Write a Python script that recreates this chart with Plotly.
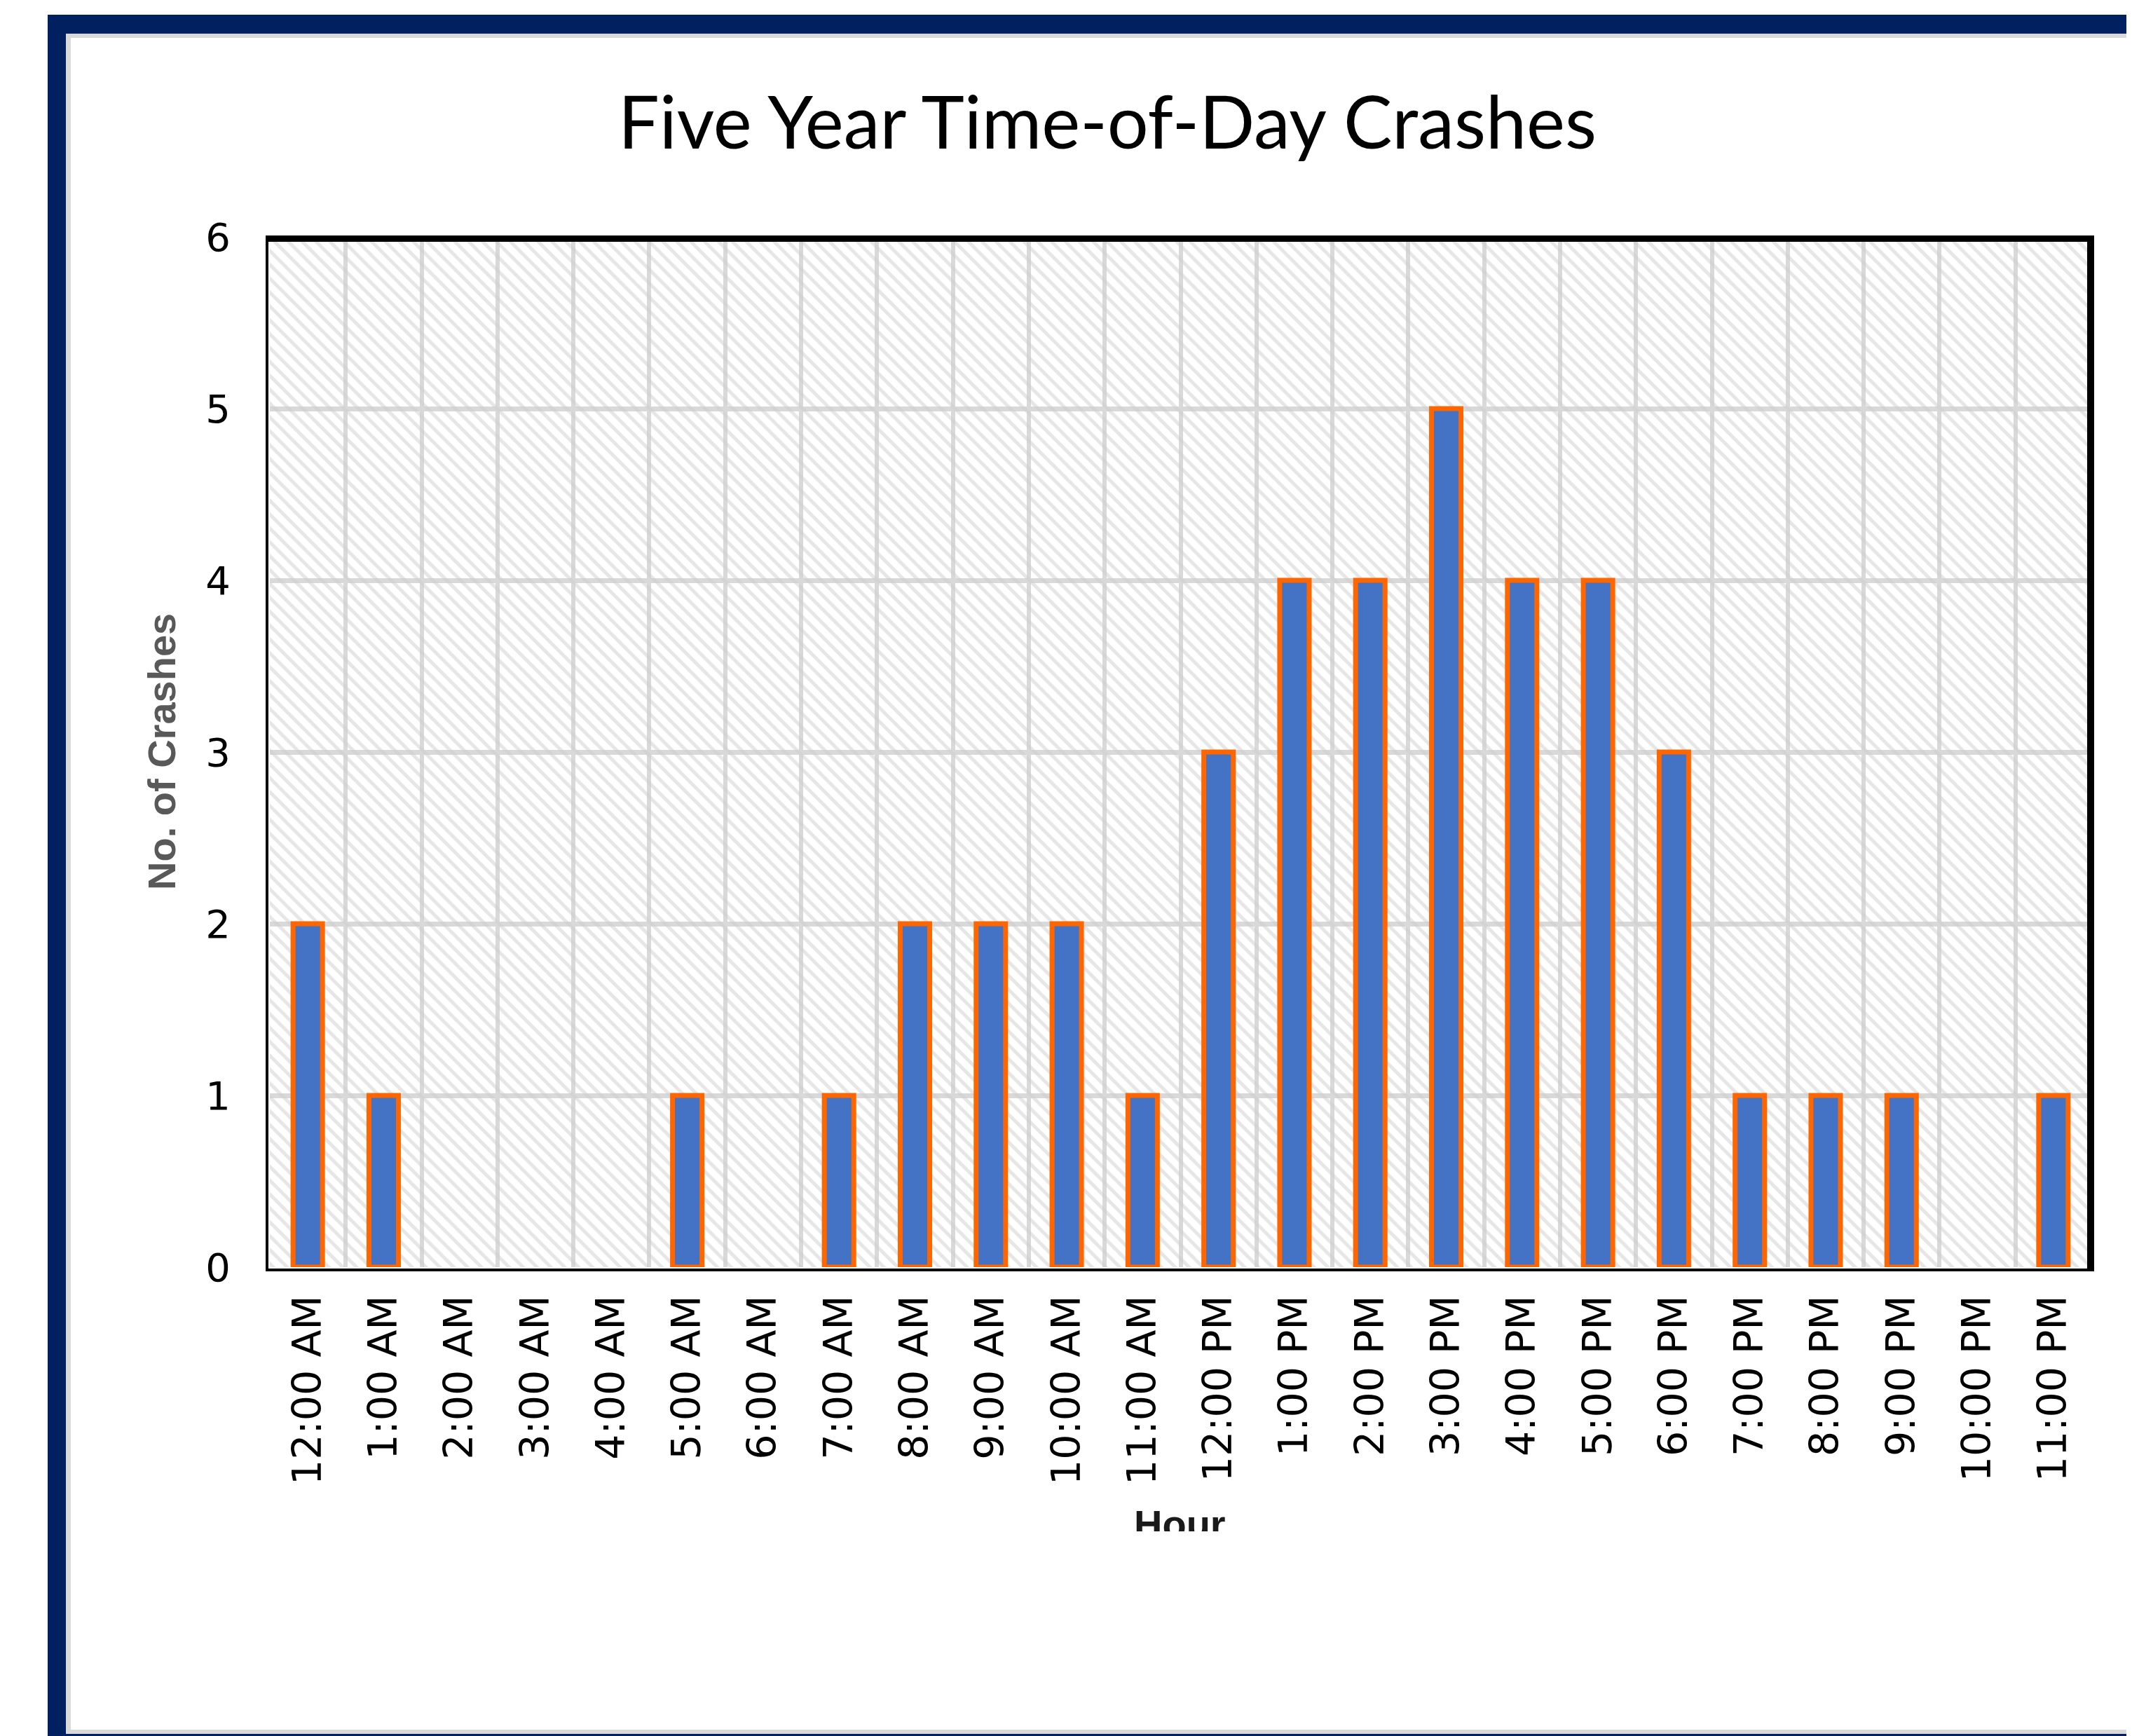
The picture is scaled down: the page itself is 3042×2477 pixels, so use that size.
import plotly.graph_objects as go

# ---------------- data ----------------
hours = ["12:00 AM", "1:00 AM", "2:00 AM", "3:00 AM", "4:00 AM", "5:00 AM",
         "6:00 AM", "7:00 AM", "8:00 AM", "9:00 AM", "10:00 AM", "11:00 AM",
         "12:00 PM", "1:00 PM", "2:00 PM", "3:00 PM", "4:00 PM", "5:00 PM",
         "6:00 PM", "7:00 PM", "8:00 PM", "9:00 PM", "10:00 PM", "11:00 PM"]
crashes = [2, 1, 0, 0, 0, 1, 0, 1, 2, 2, 2, 1, 3, 4, 4, 5, 4, 4, 3, 1, 1, 1, 0, 1]
y_ticks = [0, 1, 2, 3, 4, 5, 6]
Y_MAX = 6

title_text = "Five Year Time-of-Day Crashes"
y_title = "No. of Crashes"
x_title = "Hour"

# ---------------- layout geometry (page pixels) ----------------
W, H = 3042, 2477
OFF = 8                 # default body margin of the html page
FW, FH = W - OFF, H - OFF
X0, X1 = 385, 2984      # plot area left / right
YB, YT = 1808, 338      # plot area bottom (y=0) / top (y=6)


def px_x(p):
    return (p - X0) / (X1 - X0)


def px_y(p):
    return (YB - p) / (YB - YT)


def rect(x0, y0, x1, y1, color, layer="above"):
    return dict(type="rect", xref="paper", yref="paper",
                x0=px_x(x0), x1=px_x(x1), y0=px_y(y1), y1=px_y(y0),
                fillcolor=color, line=dict(width=0), layer=layer)


NAVY = "#002060"
LG = "#d9d9d9"

fig = go.Figure()

# hatched plot background
fig.add_bar(
    x=hours, y=[Y_MAX] * len(hours), width=1,
    marker=dict(color="rgba(0,0,0,0)", line=dict(width=0),
                pattern=dict(shape="\\", fgcolor="#cdcdcd",
                             bgcolor="rgba(0,0,0,0)", size=14, solidity=0.35)),
    hoverinfo="skip", showlegend=False)

# data bars (no outline drawn for empty hours)
fig.add_bar(
    x=hours, y=crashes, width=0.388,
    marker=dict(color="#4472C4",
                line=dict(color="#FF6600",
                          width=[7 if v > 0 else 0 for v in crashes])),
    showlegend=False, name="Crashes")

shapes = [
    # plot-area border
    rect(379, 336, 2988, 345, "black"),
    rect(2978, 336, 2988, 1814, "black"),
    rect(379, 336, 383, 1814, "black"),
    rect(379, 1810, 2988, 1814, "black"),
    # outer frame
    rect(68, 21, W + 5, 48, NAVY),
    rect(68, 21, 94, H + 5, NAVY),
    rect(68, 2474, W + 5, H + 5, NAVY),
    rect(94, 48, W + 5, 54, LG),
    rect(94, 48, 101, 2474, LG),
    rect(94, 2468, W + 5, 2474, LG),
]

annotations = [
    dict(text="<b>" + y_title + "</b>", xref="paper", yref="paper",
         x=px_x(230), y=0.5,
         xanchor="center", yanchor="middle", textangle=-90, showarrow=False,
         font=dict(family="Liberation Sans", size=56, color="#595959")),
    dict(text="<b>" + x_title + "</b>", xref="paper", yref="paper",
         x=px_x(1683), y=px_y(2142), xanchor="center", yanchor="top",
         height=42, valign="top", borderpad=0, showarrow=False,
         font=dict(family="Liberation Sans", size=56, color="#1a1a1a")),
]

fig.update_layout(
    width=FW, height=FH,
    margin=dict(l=X0 - OFF, r=W - X1, t=YT - OFF, b=H - YB, autoexpand=False),
    paper_bgcolor="white", plot_bgcolor="white",
    barmode="overlay",
    title=dict(text=title_text, x=(1580 - OFF) / FW, y=1 - (176 - OFF) / FH,
               xref="container", yref="container",
               xanchor="center", yanchor="middle",
               font=dict(family="Lato", size=104, color="black")),
    xaxis=dict(type="category", range=[-0.5, len(hours) - 0.5],
               tickson="boundaries", showgrid=True, gridcolor=LG, gridwidth=6,
               ticks="", tickangle=-90, ticklabelstandoff=28,
               tickfont=dict(family="DejaVu Sans", size=57, color="black"),
               showline=False, zeroline=False, automargin=False),
    yaxis=dict(range=[0, Y_MAX], tickvals=y_ticks, showgrid=True,
               gridcolor=LG, gridwidth=7, ticks="", ticklabelstandoff=55,
               tickfont=dict(family="DejaVu Sans", size=56, color="black"),
               showline=False, zeroline=False, automargin=False),
    shapes=shapes,
    annotations=annotations,
)

fig.write_html("out.html")
